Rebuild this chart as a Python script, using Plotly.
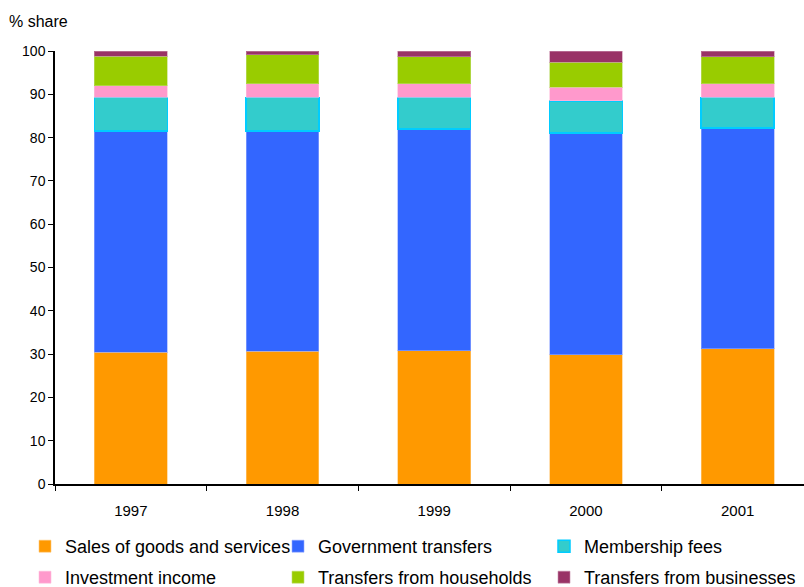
import plotly.graph_objects as go

years = ["1997", "1998", "1999", "2000", "2001"]
sales = [30.4, 30.7, 30.8, 29.9, 31.2]
government = [51.1, 50.8, 51.2, 51.2, 51.0]
membership = [7.8, 7.8, 7.3, 7.4, 7.1]
investment = [2.7, 3.1, 3.1, 3.1, 3.1]
households = [6.8, 6.7, 6.3, 5.8, 6.3]
businesses = [1.2, 0.9, 1.3, 2.6, 1.3]

series = [
    ("Sales of goods and services", sales, "#FF9900", "rgba(255,200,120,0.6)"),
    ("Government transfers", government, "#3366FF", "rgba(150,170,255,0.6)"),
    ("Membership fees", membership, "#33CCCC", "#00CCFF"),
    ("Investment income", investment, "#FF99CC", "rgba(255,190,220,0.6)"),
    ("Transfers from households", households, "#99CC00", "rgba(190,220,110,0.6)"),
    ("Transfers from businesses", businesses, "#993366", "rgba(200,140,170,0.6)"),
]

W, H = 804, 587
L, R, T, B = 55, 0, 51, 103
pw = W - L - R
ph = H - T - B

def px_x(p):
    return (p - L) / pw

def px_y(p):
    return (H - B - p) / ph

FAM = "Liberation Sans, Arial, sans-serif"
yfont = dict(family=FAM, size=14, color="#000000")
xfont = dict(family=FAM, size=15, color="#000000")
legfont = dict(family=FAM, size=18, color="#000000")

col_left = [25, 278, 544]
row_top = [528, 559]

fig = go.Figure()
legends = {}
for i, (name, vals, color, lcolor) in enumerate(series):
    key = "legend" if i == 0 else f"legend{i + 1}"
    fig.add_trace(go.Bar(
        x=years, y=vals, name=name, legend=key,
        marker=dict(color=color, line=dict(color=lcolor, width=1.5 if name == "Membership fees" else 1)),
        width=0.48,
    ))
    legends[key] = dict(
        orientation="v", font=legfont, bgcolor="rgba(0,0,0,0)", itemwidth=30,
        xanchor="left", yanchor="top",
        x=px_x(col_left[i % 3]), y=px_y(row_top[i // 3]),
    )

fig.update_layout(
    width=W, height=H,
    margin=dict(l=L, r=R, t=T, b=B, autoexpand=False),
    barmode="stack",
    plot_bgcolor="white", paper_bgcolor="white",
    font=yfont,
    xaxis=dict(
        range=[-0.5, (W - L) / 151.7 - 0.5],
        showline=True, linecolor="#000000", linewidth=1.5,
        ticks="outside", tickson="boundaries", ticklen=5, tickcolor="#000000",
        showgrid=False, ticklabelstandoff=12, tickfont=xfont,
    ),
    yaxis=dict(
        range=[0, 100], dtick=10, showline=True, linecolor="#000000", linewidth=1.5,
        ticks="outside", ticklen=5, tickcolor="#000000", showgrid=False, zeroline=False,
        tickfont=yfont,
    ),
    showlegend=True,
    annotations=[dict(
        text="% share", xref="paper", yref="paper", x=px_x(7), y=px_y(21),
        xanchor="left", yanchor="middle", showarrow=False,
        font=dict(family=FAM, size=16, color="#000000"),
    )],
    **legends,
)

fig.write_html("out.html")
